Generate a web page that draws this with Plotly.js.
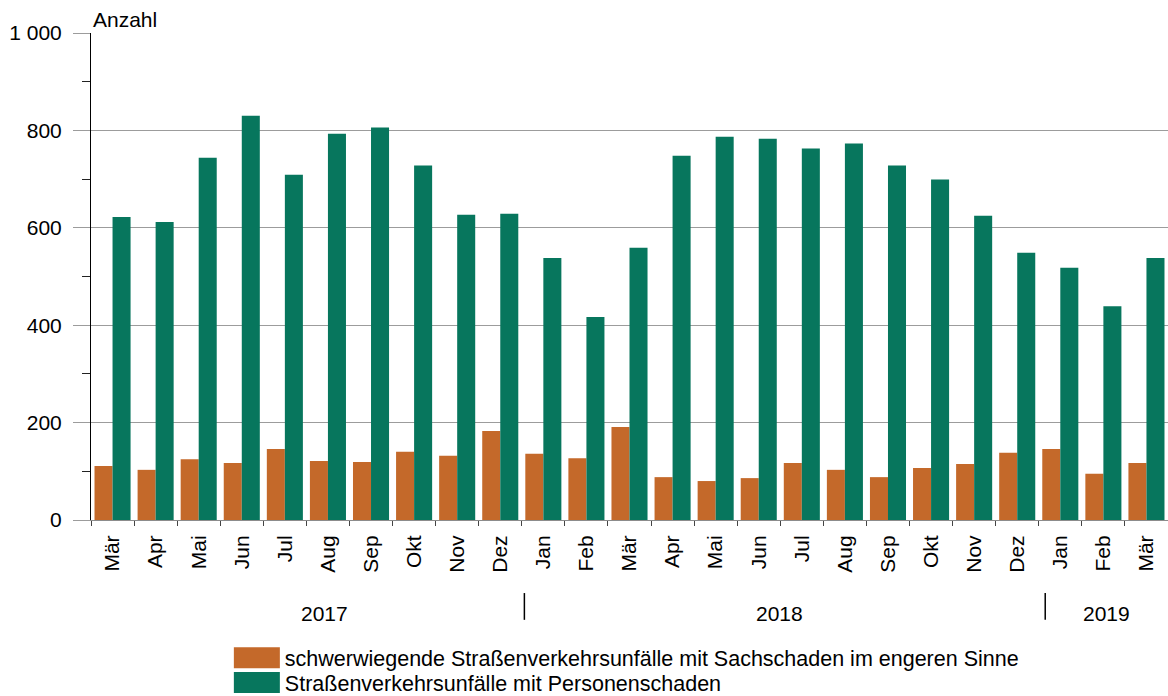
<!DOCTYPE html>
<html>
<head>
<meta charset="utf-8">
<script src="https://cdn.plot.ly/plotly-3.0.1.min.js"></script>
<style>html,body{margin:0;padding:0;background:#fff;}#chart{width:1168px;height:696px;}</style>
</head>
<body>
<div id="chart"></div>
<script>
const months = ["Mär","Apr","Mai","Jun","Jul","Aug","Sep","Okt","Nov","Dez","Jan","Feb","Mär","Apr","Mai","Jun","Jul","Aug","Sep","Okt","Nov","Dez","Jan","Feb","Mär"];
const years = ["2017","2018","2019"];
const sachschaden = [111,103,125,117,146,121,119,140,132,183,136,127,191,88,80,86,117,103,88,107,115,138,146,95,117];
const personenschaden = [622,612,744,830,709,793,806,728,627,629,538,417,559,748,787,783,763,773,728,699,625,549,518,439,538];
const seriesNames = ["schwerwiegende Straßenverkehrsunfälle mit Sachschaden im engeren Sinne","Straßenverkehrsunfälle mit Personenschaden"];

const idx = months.map((m,i)=>i);
const font = "Arial, 'Liberation Sans', sans-serif";

const traces = [
  {type:'bar', x:idx, y:sachschaden, name:seriesNames[0], marker:{color:'#c4692a'}, hoverinfo:'y', legend:'legend'},
  {type:'bar', x:idx, y:personenschaden, name:seriesNames[1], marker:{color:'#07765d'}, hoverinfo:'y', legend:'legend2'}
];

const legendBase = {orientation:'v', x:0.128, xanchor:'left', yanchor:'top',
          font:{family:font, size:21.5, color:'#000'}, itemwidth:46, tracegroupgap:0,
          bgcolor:'rgba(0,0,0,0)'};

const layout = {
  width:1168, height:696,
  margin:{l:91, r:0, t:33, b:176, autoexpand:false},
  paper_bgcolor:'#fff', plot_bgcolor:'#fff',
  font:{family:font, size:21, color:'#000'},
  barmode:'group', bargap:0.163, bargroupgap:0,
  separators:', ',
  showlegend:true,
  legend:Object.assign({}, legendBase, {y:-0.241}),
  legend2:Object.assign({}, legendBase, {y:-0.2914}),
  xaxis:{
    type:'linear', range:[-0.5, 24.5],
    tickmode:'array', tickvals:idx, ticktext:months,
    tickangle:-90, ticks:'', showgrid:false,
    showline:true, linecolor:'#8c8c8c', linewidth:1,
    minor:{ticks:'outside', tickmode:'array', tickvals:idx.map(i=>i-0.5).concat([24.5]), ticklen:5, tickcolor:'#444', tickwidth:1},
    tickfont:{family:font, size:21, color:'#000'},
    ticklabelstandoff:6, fixedrange:true
  },
  yaxis:{
    range:[0,1000], tickmode:'linear', tick0:0, dtick:200,
    tickformat:',d',
    showgrid:true, gridcolor:'#9c9c9c', gridwidth:1,
    ticks:'outside', ticklen:17, tickcolor:'#9c9c9c', tickwidth:1,
    minor:{ticks:'outside', dtick:100, ticklen:8, tickcolor:'#222', tickwidth:1, showgrid:false},
    showline:true, linecolor:'#000', linewidth:1,
    zeroline:false,
    tickfont:{family:font, size:21, color:'#000'},
    ticklabelstandoff:7, fixedrange:true
  },
  shapes:[
    {type:'line', xref:'x', yref:'paper', x0:9.56, x1:9.56, y0:-0.150, y1:-0.205, line:{color:'#000', width:1.5}},
    {type:'line', xref:'x', yref:'paper', x0:21.65, x1:21.65, y0:-0.150, y1:-0.205, line:{color:'#000', width:1.5}}
  ],
  annotations:[
    {text:'Anzahl', xref:'paper', yref:'paper', x:0, y:1, xanchor:'left', yanchor:'bottom', showarrow:false, xshift:0, yshift:0, font:{family:font, size:21, color:'#000'}},
    {text:years[0], xref:'x', yref:'paper', x:4.93, y:-0.191, xanchor:'center', yanchor:'middle', showarrow:false, font:{family:font, size:21, color:'#000'}},
    {text:years[1], xref:'x', yref:'paper', x:15.48, y:-0.191, xanchor:'center', yanchor:'middle', showarrow:false, font:{family:font, size:21, color:'#000'}},
    {text:years[2], xref:'x', yref:'paper', x:23.08, y:-0.191, xanchor:'center', yanchor:'middle', showarrow:false, font:{family:font, size:21, color:'#000'}}
  ]
};

function fixLegend(){
  document.querySelectorAll('#chart .legendpoints path').forEach(p=>{
    p.setAttribute('d','M-23,-10.5h46v21h-46z');
  });
}
Plotly.newPlot('chart', traces, layout, {displayModeBar:false, staticPlot:true}).then(gd=>{
  fixLegend();
  gd.on('plotly_afterplot', fixLegend);
});
</script>
</body>
</html>
